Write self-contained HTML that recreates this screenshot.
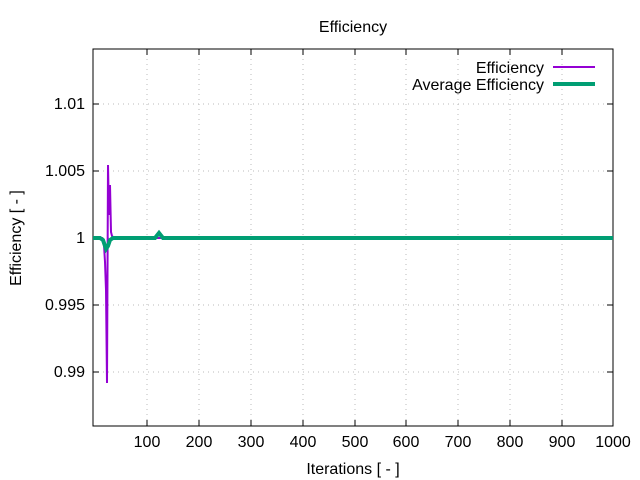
<!DOCTYPE html>
<html><head><style>body{margin:0;background:#fff}svg{display:block}text{font-family:"Liberation Sans",sans-serif;font-size:16px;fill:#000}.t{font-size:15px}.y{font-size:14px}</style></head><body>
<svg width="640" height="480" xmlns="http://www.w3.org/2000/svg">
<rect width="640" height="480" fill="#fff"/>
<g stroke="#bbb" stroke-width="1" stroke-dasharray="1,4">
<line x1="147" y1="49" x2="147" y2="426"/><line x1="199" y1="49" x2="199" y2="426"/><line x1="251" y1="49" x2="251" y2="426"/><line x1="303" y1="49" x2="303" y2="426"/><line x1="355" y1="49" x2="355" y2="426"/><line x1="406" y1="49" x2="406" y2="426"/><line x1="458" y1="49" x2="458" y2="426"/><line x1="510" y1="49" x2="510" y2="426"/><line x1="562" y1="49" x2="562" y2="426"/>
<line x1="93" y1="104" x2="613" y2="104"/><line x1="93" y1="171" x2="613" y2="171"/><line x1="93" y1="238" x2="613" y2="238"/><line x1="93" y1="305" x2="613" y2="305"/><line x1="93" y1="372" x2="613" y2="372"/>
</g>
<g stroke="#000" stroke-width="1">
<path d="M147,426v-6M199,426v-6M251,426v-6M303,426v-6M355,426v-6M406,426v-6M458,426v-6M510,426v-6M562,426v-6M147,49v6M199,49v6M251,49v6M303,49v6M355,49v6M406,49v6M458,49v6M510,49v6M562,49v6M93,104h6M93,171h6M93,238h6M93,305h6M93,372h6M613,104h-6M613,171h-6M613,238h-6M613,305h-6M613,372h-6"/>
<rect x="93" y="49" width="520" height="377" fill="none"/>
</g>
<path d="M93,238 L102,238 L104,245 L105,262 L106,290 L107,383 L108,165 L109,215 L110,185 L111,232 L112,236 L114,238 L613,238" fill="none" stroke="#9400d3" stroke-width="2"/>
<path d="M93,238 L100,238 L103,240 L106,249 L108,246 L110,240 L113,238 L155,238 L159,233 L163,238 L613,238" fill="none" stroke="#009e73" stroke-width="4"/>
<line x1="553" y1="67" x2="595" y2="67" stroke="#9400d3" stroke-width="2"/>
<line x1="553" y1="84" x2="595" y2="84" stroke="#009e73" stroke-width="4"/>
<text x="544" y="73" text-anchor="end">Efficiency</text>
<text x="544" y="90" text-anchor="end">Average Efficiency</text>
<text x="353" y="32" text-anchor="middle">Efficiency</text>
<g text-anchor="end" class="y"><text x="85" y="109">1.01</text><text x="85" y="176">1.005</text><text x="85" y="243">1</text><text x="85" y="310">0.995</text><text x="85" y="377">0.99</text></g>
<g text-anchor="middle" class="t"><text x="147" y="447">100</text><text x="199" y="447">200</text><text x="251" y="447">300</text><text x="303" y="447">400</text><text x="355" y="447">500</text><text x="406" y="447">600</text><text x="458" y="447">700</text><text x="510" y="447">800</text><text x="562" y="447">900</text><text x="613" y="447">1000</text></g>
<text x="353" y="474" text-anchor="middle">Iterations [ - ]</text>
<text transform="translate(21,238) rotate(-90)" text-anchor="middle">Efficiency [ - ]</text>
</svg>
</body></html>
